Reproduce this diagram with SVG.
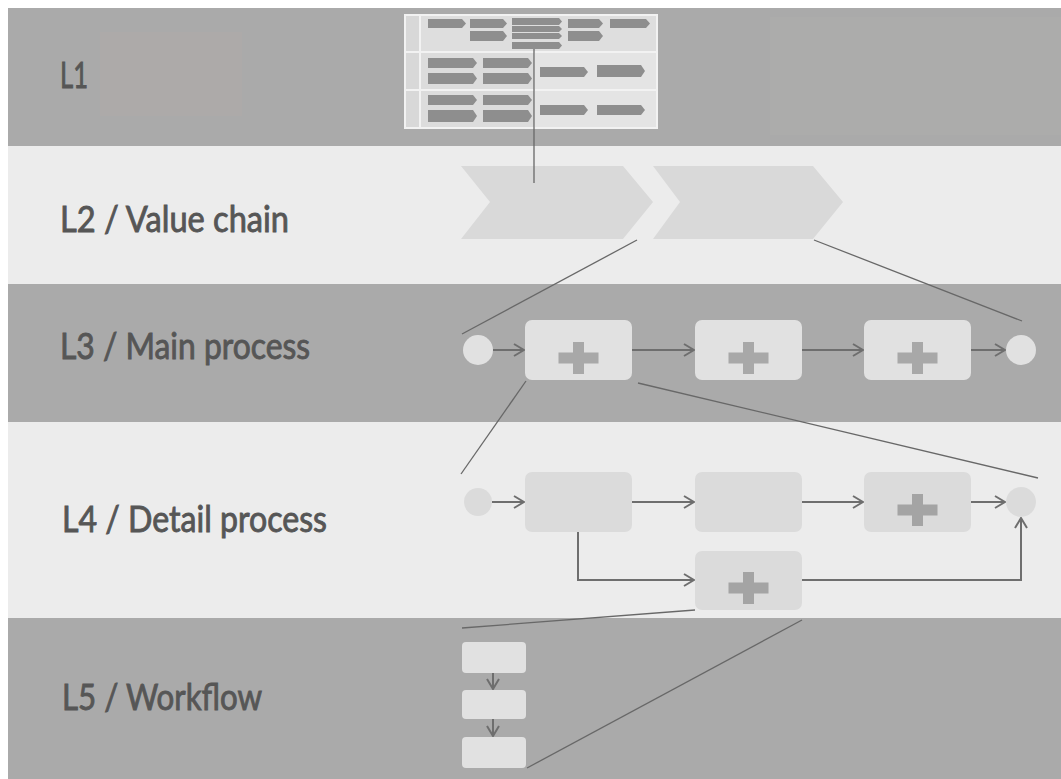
<svg xmlns="http://www.w3.org/2000/svg" width="1061" height="779" viewBox="0 0 1061 779">
<style>
.band-d{fill:#aaaaaa}
.band-l{fill:#ececec}
.lbl{font-family:"Lato","Open Sans",sans-serif;font-size:36px;fill:#565656;stroke:#565656;stroke-width:0.9px}
.b3{fill:#e1e1e1}
.b4{fill:#dbdbdb}
.p3{fill:#a8a8a8}
.p4{fill:#a4a4a4}
.chev{fill:#d9d9d9}
.tch{fill:#8e8e8e}
.flow{fill:none;stroke:#6e6e6e;stroke-width:2;marker-end:url(#arr)}
.zoom{fill:none;stroke:#686868;stroke-width:1.3}
</style>
<defs>
<marker id="arr" viewBox="0 0 12 14" refX="11" refY="7" markerWidth="12" markerHeight="14" markerUnits="userSpaceOnUse" orient="auto">
<path d="M1,1 L11,7 L1,13" fill="none" stroke="#6e6e6e" stroke-width="2"/>
</marker>
<g id="plus"><rect x="-20" y="-5.5" width="40" height="11"/><rect x="-5.5" y="-16" width="11" height="32"/></g>
</defs>
<rect width="1061" height="779" fill="#ffffff"/>
<g id="bands">
<rect class="band-d" x="8" y="8" width="1053" height="138"/>
<rect x="100" y="32" width="142" height="84" fill="#adaaa9"/>
<rect x="770" y="17" width="291" height="118" fill="#acacab"/>
<rect class="band-l" x="8" y="146" width="1053" height="138"/>
<rect class="band-d" x="8" y="284" width="1053" height="138"/>
<rect class="band-l" x="8" y="422" width="1053" height="196"/>
<rect class="band-d" x="8" y="618" width="1053" height="161"/>
</g>
<g id="labels">
<text class="lbl" x="60" y="88" textLength="28" lengthAdjust="spacingAndGlyphs">L1</text>
<text class="lbl" x="60" y="232" textLength="229" lengthAdjust="spacingAndGlyphs">L2 / Value chain</text>
<text class="lbl" x="60" y="359" textLength="250" lengthAdjust="spacingAndGlyphs">L3 / Main process</text>
<text class="lbl" x="62" y="532" textLength="265" lengthAdjust="spacingAndGlyphs">L4 / Detail process</text>
<text class="lbl" x="62" y="710" textLength="200" lengthAdjust="spacingAndGlyphs">L5 / Workflow</text>
</g>
<g id="l1-map">
<rect x="404" y="14" width="254" height="115" fill="#f2f2f2"/>
<rect x="406" y="16" width="13" height="35" fill="#d8d8d8"/>
<rect x="406" y="53" width="13" height="36" fill="#d8d8d8"/>
<rect x="406" y="91" width="13" height="36" fill="#d8d8d8"/>
<rect x="421" y="16" width="235" height="35" fill="#dedede"/>
<rect x="421" y="53" width="113" height="36" fill="#dcdcdc"/>
<rect x="535" y="53" width="121" height="36" fill="#e4e4e4"/>
<rect x="421" y="91" width="113" height="36" fill="#dcdcdc"/>
<rect x="535" y="91" width="121" height="36" fill="#e4e4e4"/>
<g class="tch">
<polygon points="428,19 462,19 466,23.5 462,28 428,28"/>
<polygon points="470,19 503,19 507,23.5 503,28 470,28"/>
<polygon points="470,31 503,31 507,36 503,41 470,41"/>
<polygon points="512,18 559,18 562,21.5 559,25 512,25"/>
<polygon points="512,26 559,26 562,29 559,32 512,32"/>
<polygon points="512,33 559,33 562,36 559,39 512,39"/>
<polygon points="512,42 559,42 562,45.5 559,49 512,49"/>
<polygon points="568,19 599,19 603,23.5 599,28 568,28"/>
<polygon points="568,31 599,31 603,36 599,41 568,41"/>
<polygon points="610,19 646,19 650,23.5 646,28 610,28"/>
<polygon points="428,58 473,58 477,63 473,68 428,68"/>
<polygon points="428,73 473,73 477,78.5 473,84 428,84"/>
<polygon points="483,58 528,58 532,63 528,68 483,68"/>
<polygon points="483,73 528,73 532,78.5 528,84 483,84"/>
<polygon points="540,67 584,67 588,72 584,77 540,77"/>
<polygon points="597,65 641,65 645,71 641,77 597,77"/>
<polygon points="428,95 473,95 477,100 473,105 428,105"/>
<polygon points="428,110 473,110 477,116 473,122 428,122"/>
<polygon points="483,95 528,95 532,100 528,105 483,105"/>
<polygon points="483,110 528,110 532,116 528,122 483,122"/>
<polygon points="540,105 584,105 588,110 584,115 540,115"/>
<polygon points="597,105 641,105 645,110 641,115 597,115"/>
</g>
</g>
<g id="l2-chevron-1"><polygon class="chev" points="461,166 623,166 653,202 623,239 461,239 490,202"/></g>
<g id="l2-chevron-2"><polygon class="chev" points="653,166 813,166 843,202 813,239 653,239 680,202"/></g>
<g id="l3-start"><circle class="b3" cx="478" cy="350" r="15"/></g>
<g id="l3-task-1"><rect class="b3" x="525" y="320" width="107" height="60" rx="7"/><use href="#plus" class="p3" x="578.5" y="358"/></g>
<g id="l3-task-2"><rect class="b3" x="695" y="320" width="107" height="60" rx="7"/><use href="#plus" class="p3" x="748.5" y="358"/></g>
<g id="l3-task-3"><rect class="b3" x="864" y="320" width="107" height="60" rx="7"/><use href="#plus" class="p3" x="917.5" y="358"/></g>
<g id="l3-end"><circle class="b3" cx="1021" cy="350" r="15"/></g>
<g id="l4-start"><circle class="b4" cx="478" cy="502" r="14"/></g>
<g id="l4-task-1"><rect class="b4" x="525" y="472" width="107" height="60" rx="7"/></g>
<g id="l4-task-2"><rect class="b4" x="695" y="472" width="107" height="60" rx="7"/></g>
<g id="l4-task-3"><rect class="b4" x="864" y="472" width="107" height="60" rx="7"/><use href="#plus" class="p4" x="917.5" y="510"/></g>
<g id="l4-task-4"><rect class="b4" x="695" y="551" width="107" height="59" rx="7"/><use href="#plus" class="p4" x="748.5" y="588"/></g>
<g id="l4-end"><circle class="b4" cx="1021" cy="502" r="15"/></g>
<g id="l5-step-1"><rect class="b3" x="462" y="642" width="64" height="31" rx="4"/></g>
<g id="l5-step-2"><rect class="b3" x="462" y="690" width="64" height="29" rx="4"/></g>
<g id="l5-step-3"><rect class="b3" x="462" y="737" width="64" height="31" rx="4"/></g>
<g id="connectors">
<path class="flow" d="M493,350 H524"/>
<path class="flow" d="M632,350 H694"/>
<path class="flow" d="M802,350 H863"/>
<path class="flow" d="M971,350 H1005"/>
<path class="flow" d="M492,502 H524"/>
<path class="flow" d="M632,502 H694"/>
<path class="flow" d="M802,502 H863"/>
<path class="flow" d="M971,502 H1005"/>
<path class="flow" d="M578,532 V580 H694"/>
<path class="flow" d="M802,580 H1021 V518"/>
<path class="flow" d="M493,673 V689"/>
<path class="flow" d="M493,719 V736"/>
<path class="zoom" d="M534,49 V183" stroke="#7a7a7a"/>
<path class="zoom" d="M637,240 L462,334"/>
<path class="zoom" d="M814,240 L1022,321"/>
<path class="zoom" d="M526,381 L461,474"/>
<path class="zoom" d="M638,383 L1038,478"/>
<path class="zoom" d="M695,610 L462,628"/>
<path class="zoom" d="M802,620 L527,768"/>
</g>
</svg>
